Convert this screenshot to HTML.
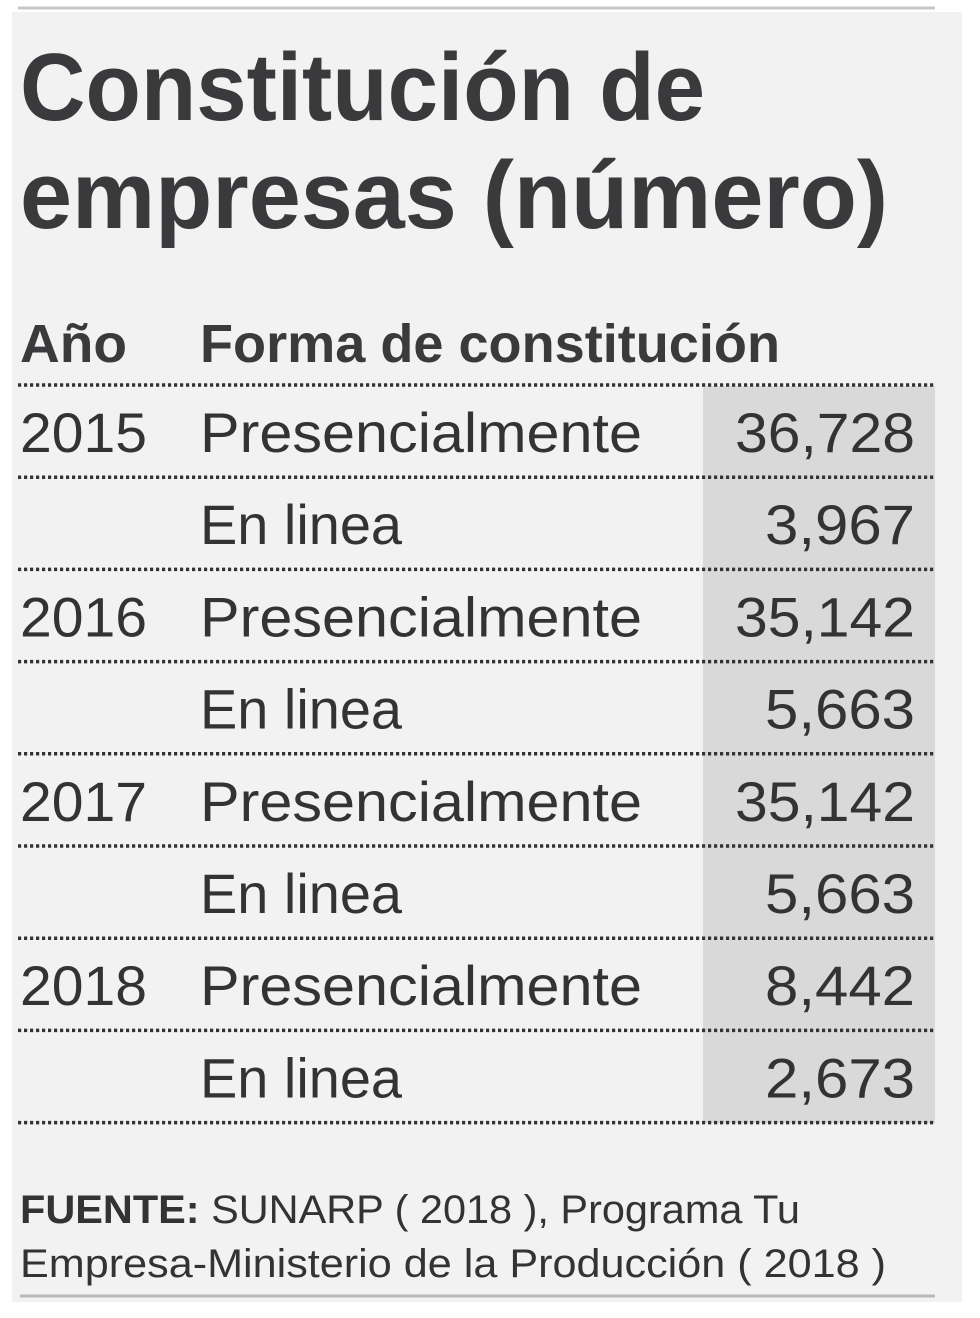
<!DOCTYPE html>
<html><head><meta charset="utf-8"><style>
html,body{margin:0;padding:0;background:#fff;}
svg{display:block;font-family:"Liberation Sans",sans-serif;}
</style></head><body>
<svg width="980" height="1318" viewBox="0 0 980 1318">
<rect x="12" y="12" width="950" height="1290" fill="#f2f2f2"/>
<line x1="18" y1="8" x2="935" y2="8" stroke="#c8c8c8" stroke-width="3"/>
<rect x="703" y="386" width="232" height="737" fill="#d9d9d9"/>
<g fill="#3a3a3c" font-weight="bold" font-size="96">
<text x="20" y="120" textLength="685" lengthAdjust="spacingAndGlyphs">Constitución de</text>
<text x="20" y="228" textLength="868" lengthAdjust="spacingAndGlyphs">empresas (número)</text>
</g>
<text x="20" y="362" font-size="54" font-weight="bold" fill="#3a3a3c" textLength="107" lengthAdjust="spacingAndGlyphs">Año</text>
<text x="200" y="362" font-size="54" font-weight="bold" fill="#3a3a3c" textLength="580" lengthAdjust="spacingAndGlyphs">Forma de constitución</text>
<g id="rows"></g>
<g fill="#333" font-size="40">
<text x="20" y="1223" textLength="780" lengthAdjust="spacingAndGlyphs"><tspan font-weight="bold">FUENTE:</tspan> SUNARP ( 2018 ), Programa Tu</text>
<text x="20" y="1277" textLength="866" lengthAdjust="spacingAndGlyphs">Empresa-Ministerio de la Producción ( 2018 )</text>
</g>
<line x1="20" y1="1296" x2="935" y2="1296" stroke="#b8b8b8" stroke-width="3"/>
</svg>
<script>
const years = ["2015","","2016","","2017","","2018",""];
const forms = ["Presencialmente","En linea","Presencialmente","En linea","Presencialmente","En linea","Presencialmente","En linea"];
const values = ["36,728","3,967","35,142","5,663","35,142","5,663","8,442","2,673"];
const NS="http://www.w3.org/2000/svg";
const g=document.getElementById('rows');
function rowY(i){return 385+92.2*i;}
function mk(tag,attrs){const e=document.createElementNS(NS,tag);for(const k in attrs)e.setAttribute(k,attrs[k]);return e;}
for(let i=0;i<=values.length;i++){
  const l=mk('line',{x1:18,x2:935,y1:rowY(i),y2:rowY(i),stroke:'#333','stroke-width':3.5,'stroke-dasharray':'3.2 2.8'});
  
  
  g.appendChild(l);
}
for(let i=0;i<values.length;i++){
  const y=rowY(i)+67;
  if(years[i]){
    const t=mk('text',{x:20,y:y,'font-size':56,fill:'#333',textLength:127,lengthAdjust:'spacingAndGlyphs'});
    t.textContent=years[i];
    
    
    g.appendChild(t);
  }
  const f=mk('text',{x:200,y:y,'font-size':56,fill:'#333',textLength:forms[i]==="En linea"?202:442,lengthAdjust:'spacingAndGlyphs'});
  f.textContent=forms[i];
  
  
  g.appendChild(f);
  const v=mk('text',{x:915,y:y,'font-size':56,fill:'#333','text-anchor':'end',textLength:values[i].length*30,lengthAdjust:'spacingAndGlyphs'});
  v.textContent=values[i];
  
  
  g.appendChild(v);
}
</script>
</body></html>
